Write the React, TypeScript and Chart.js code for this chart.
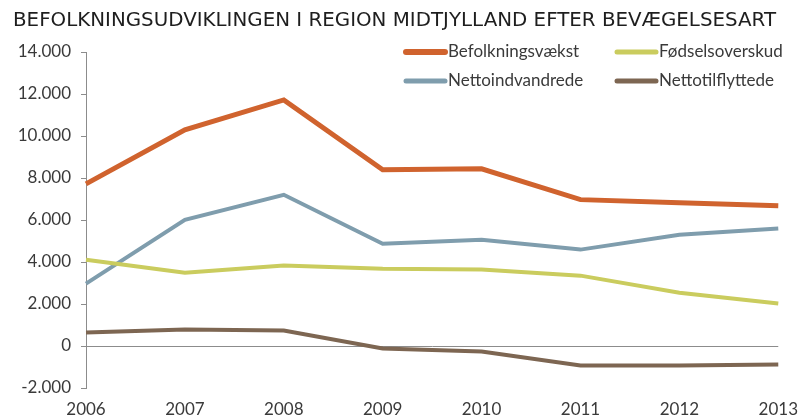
import React, { useEffect, useRef } from "react";
import { Chart, registerables } from "chart.js";

Chart.register(...registerables);

const chartTitle = "BEFOLKNINGSUDVIKLINGEN I REGION MIDTJYLLAND EFTER BEVÆGELSESART";
const years = ["2006", "2007", "2008", "2009", "2010", "2011", "2012", "2013"];
const seriesNames = ["Befolkningsvækst", "Fødselsoverskud", "Nettoindvandrede", "Nettotilflyttede"];
const befolkningsvaekst = [7720, 10290, 11720, 8390, 8440, 6970, 6820, 6680];
const foedselsoverskud = [4110, 3490, 3830, 3680, 3640, 3350, 2540, 2020];
const nettoindvandrede = [2970, 6010, 7200, 4870, 5060, 4590, 5300, 5590];
const nettotilflyttede = [640, 780, 740, -120, -260, -930, -930, -880];
const yMin = -2000;
const yMax = 14000;
const yStep = 2000;

const colors = ["#D0632E", "#CACC5E", "#7F9DAD", "#7D6652"];
const widths = [5, 4, 4, 4];

function fmt(v: number): string {
  const s = Math.abs(v).toString().replace(/\B(?=(\d{3})+(?!\d))/g, ".");
  return (v < 0 ? "-" : "") + s;
}

const titleLegendPlugin = {
  id: "titleLegend",
  afterDraw(chart: any) {
    const ctx = chart.ctx;
    ctx.save();
    ctx.fillStyle = "#1e1e1e";
    ctx.font = "19px 'DejaVu Sans', sans-serif";
    ctx.textBaseline = "middle";
    ctx.textAlign = "left";
    const target = 763;
    const w = ctx.measureText(chartTitle).width;
    ctx.translate(13, 21);
    ctx.scale(target / w, 1);
    ctx.fillText(chartTitle, 0, 0);
    ctx.restore();
    ctx.save();
    ctx.textBaseline = "middle";
    ctx.textAlign = "left";

    const cols = [404, 615];
    const rows = [52, 81];
    ctx.font = "17px Lato, sans-serif";
    chart.data.datasets.forEach((ds: any, i: number) => {
      const x = cols[i % 2];
      const y = rows[Math.floor(i / 2)];
      ctx.strokeStyle = ds.borderColor;
      ctx.lineWidth = ds.borderWidth + 1;
      ctx.lineCap = "round";
      ctx.beginPath();
      ctx.moveTo(x + 2, y);
      ctx.lineTo(x + 41, y);
      ctx.stroke();
      ctx.fillStyle = "#3a3a3a";
      ctx.fillText(ds.label, x + 44, y);
    });
    ctx.restore();
  },
};

export default function App() {
  const ref = useRef<HTMLCanvasElement>(null);
  useEffect(() => {
    document.body.style.margin = "0";
    const series = [befolkningsvaekst, foedselsoverskud, nettoindvandrede, nettotilflyttede];
    const chart = new Chart(ref.current!, {
      type: "line",
      data: {
        labels: years,
        datasets: series.map((d, i) => ({
          label: seriesNames[i],
          data: d,
          borderColor: colors[i],
          backgroundColor: colors[i],
          borderWidth: widths[i],
          pointRadius: 0,
          tension: 0,
          fill: false,
        })),
      },
      options: {
        animation: false,
        responsive: false,
        maintainAspectRatio: false,
        layout: { padding: { left: 0, top: 52, right: 20, bottom: 0 } },
        plugins: {
          legend: { display: false },
          title: { display: false },
          tooltip: { enabled: false },
        },
        scales: {
          x: {
            offset: false,
            grid: { display: false },
            border: { display: false },
            ticks: {
              color: "#3a3a3a",
              font: { family: "Lato, sans-serif", size: 17 },
              padding: 3,
              maxRotation: 0,
              autoSkip: false,
            },
            afterFit: (s: any) => {
              s.height = 31;
            },
          },
          y: {
            min: yMin,
            max: yMax,
            ticks: {
              stepSize: yStep,
              color: "#3a3a3a",
              font: { family: "Lato, sans-serif", size: 17 },
              padding: 10,
              callback: (v: any) => fmt(Number(v)),
            },
            grid: {
              drawOnChartArea: true,
              tickLength: 5,
              color: (c: any) => (c.tick && c.tick.value === 0 ? "#8c8c8c" : "rgba(0,0,0,0)"),
              tickColor: "#8c8c8c",
              lineWidth: 1,
            },
            border: { display: true, color: "#8c8c8c", width: 1 },
            afterFit: (s: any) => {
              s.width = 86;
            },
          },
        },
      },
      plugins: [titleLegendPlugin],
    });
    return () => chart.destroy();
  }, []);
  return (
    <div style={{ width: 801, height: 419 }}>
      <canvas ref={ref} width={801} height={419} style={{ display: "block" }} />
    </div>
  );
}
